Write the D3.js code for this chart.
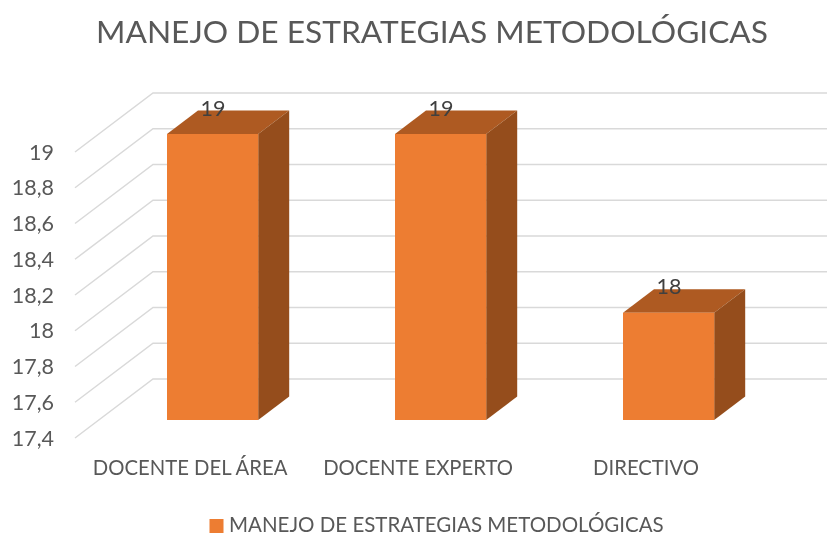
<!DOCTYPE html>
<html><head><meta charset="utf-8">
<script src="https://cdn.jsdelivr.net/npm/d3@7"></script>
<style>html,body{margin:0;padding:0;background:#fff}svg{display:block}text{font-family:Lato,"Open Sans",sans-serif;fill:#595959}</style>
</head><body><svg id="c" width="827" height="533"></svg>
<script>
const categories = ["DOCENTE DEL ÁREA","DOCENTE EXPERTO","DIRECTIVO"];
const values = [19,19,18];
const valueLabels = ["19","19","18"];
const yTicks = [17.4,17.6,17.8,18,18.2,18.4,18.6,18.8,19];
const seriesName = "MANEJO DE ESTRATEGIAS METODOLÓGICAS";
const chartTitle = "MANEJO DE ESTRATEGIAS METODOLÓGICAS";

const svg = d3.select("#c");
const soft = svg.append("defs").append("filter").attr("id","soft")
  .attr("x",0).attr("y",0).attr("width","100%").attr("height","100%")
  .attr("filterUnits","userSpaceOnUse");
soft.append("feGaussianBlur").attr("stdDeviation",0.45);
const root = svg.append("g").attr("filter","url(#soft)");
root.append("rect").attr("width",827).attr("height",533).attr("fill","#fff");

const fmt = d => String(d).replace(".", ",");
const y = d3.scaleLinear().domain([17.4,19]).range([420,134]);
const x = d3.scaleBand().domain(categories).range([98.6,782.6]).paddingInner(.6).paddingOuter(.3);
const dx = 31, dy = -23.5;
const wallL = 75, wallB = 153, wallR = 827;

const grid = root.append("g").attr("fill","none").attr("stroke","#d9d9d9").attr("stroke-width",1.5);
grid.selectAll("path").data(yTicks).join("path")
  .attr("d", d => `M${wallL},${y(d)+18}L${wallB},${y(d)-41}L${wallR},${y(d)-41}`);

root.append("g").selectAll("text").data(yTicks).join("text")
  .attr("x",54).attr("y",d=>y(d)+25.5).attr("text-anchor","end")
  .attr("font-size",21.5).text(fmt);

const bars = root.append("g").selectAll("g").data(values).join("g");
const bx = (d,i)=>x(categories[i]);
const bw = x.bandwidth();
bars.append("path").attr("fill","#ae5a21")
  .attr("d",(d,i)=>`M${bx(d,i)},${y(d)}l${dx},${dy}h${bw}l${-dx},${-dy}z`);
bars.append("path").attr("fill","#954e1b")
  .attr("d",(d,i)=>`M${bx(d,i)+bw},${y(d)}l${dx},${dy}V${y(17.4)+dy}l${-dx},${-dy}z`);
bars.append("rect").attr("fill","#ed7d31")
  .attr("x",bx).attr("y",d=>y(d)).attr("width",bw).attr("height",d=>y(17.4)-y(d));

root.append("g").selectAll("text").data(values).join("text")
  .attr("x",(d,i)=>bx(d,i)+bw/2+0.5).attr("y",d=>y(d)-18.5)
  .attr("text-anchor","middle").attr("font-size",21.5)
  .style("fill","#3f3f3f")
  .text((d,i)=>valueLabels[i]);

root.append("g").selectAll("text").data(categories).join("text")
  .attr("x",d=>x(d)+bw/2-22.5).attr("y",475)
  .attr("text-anchor","middle").attr("font-size",20.3).text(d=>d);

root.append("text").attr("x",432).attr("y",43).attr("text-anchor","middle")
  .attr("font-size",31.7).text(chartTitle);

root.append("rect").attr("x",209.5).attr("y",519).attr("width",14).attr("height",14).attr("fill","#ed7d31");
root.append("text").attr("x",229).attr("y",532).attr("font-size",20.5).text(seriesName);
</script></body></html>
